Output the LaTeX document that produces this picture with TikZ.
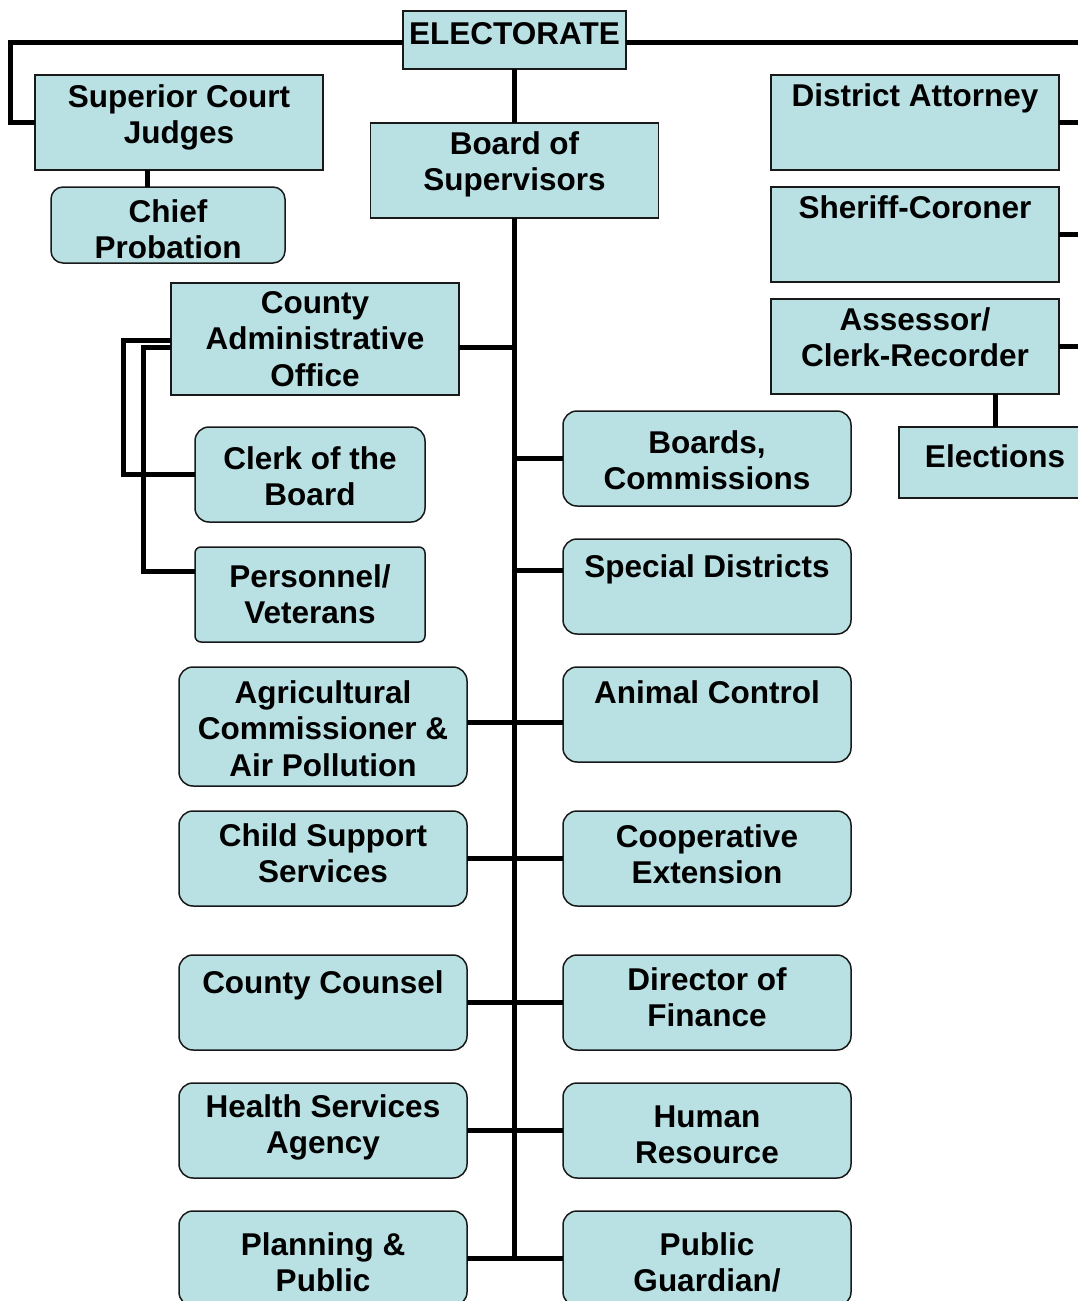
\documentclass[tikz,border=0pt]{standalone}
\usepackage{fontspec}
\setmainfont{Liberation Sans}
\definecolor{boxfill}{RGB}{185,224,227}
\definecolor{boxline}{RGB}{25,25,25}
\newcommand{\boxtxt}[4]{\parbox[c][#2pt][t]{#1pt}{\centering\rule{0pt}{#3pt}#4}}
\tikzset{
  orgbox/.style={draw=boxline, line width=1.5pt, fill=boxfill, inner sep=0pt, outer sep=0pt,
    font=\fontsize{31.5pt}{36.5pt}\selectfont\bfseries},
  roundbox/.style={orgbox, rounded corners=14pt},
  conn/.style={line width=5pt, draw=black}
}
\begin{document}
\begin{tikzpicture}[x=1pt,y=-1pt]
\useasboundingbox (0,0) rectangle (1078,1301);
\clip (0,0) rectangle (1078,1301);
% boxes
\node[orgbox] (elect) at (514.5,40) {\boxtxt{223}{58}{33}{ELECTORATE}};
\node[orgbox] (sup) at (179,122.5) {\boxtxt{288}{95}{32}{Superior Court\\Judges}};
\node[roundbox, rounded corners=12pt] (chief) at (168,225) {\boxtxt{234}{76}{35}{Chief\\Probation}};
\node[orgbox] (bos) at (514.5,170.5) {\boxtxt{288}{95}{31}{Board of\\Supervisors}};
\node[orgbox] (da) at (915,122.5) {\boxtxt{288}{95}{31}{District Attorney}};
\node[orgbox] (sher) at (915,234.5) {\boxtxt{288}{95}{31}{Sheriff-Coroner}};
\node[orgbox] (ass) at (915,346.5) {\boxtxt{288}{95}{31}{Assessor/\\Clerk-Recorder}};
\node[orgbox] (elec) at (995,462.5) {\boxtxt{192}{71}{40}{Elections}};
\node[orgbox] (cao) at (315,339) {\boxtxt{288}{112}{30}{County\\Administrative\\Office}};
\node[roundbox] (cob) at (310,474.5) {\boxtxt{230}{95}{42}{Clerk of the\\Board}};
\node[roundbox, rounded corners=6pt] (pers) at (310,594.5) {\boxtxt{230}{95}{40}{Personnel/\\Veterans}};
\node[roundbox] (bc) at (707,458.5) {\boxtxt{288}{95}{42}{Boards,\\Commissions}};
\node[roundbox] (sd) at (707,586.5) {\boxtxt{288}{95}{38}{Special Districts}};
\node[roundbox] (agr) at (323,726.5) {\boxtxt{288}{119}{36}{Agricultural\\Commissioner \&\\Air Pollution}};
\node[roundbox] (ac) at (707,714.5) {\boxtxt{288}{95}{36}{Animal Control}};
\node[roundbox] (css) at (323,858.5) {\boxtxt{288}{95}{35}{Child Support\\Services}};
\node[roundbox] (ce) at (707,858.5) {\boxtxt{288}{95}{36}{Cooperative\\Extension}};
\node[roundbox] (cc) at (323,1002.5) {\boxtxt{288}{95}{38}{County Counsel}};
\node[roundbox] (dof) at (707,1002.5) {\boxtxt{288}{95}{35}{Director of\\Finance}};
\node[roundbox] (hsa) at (323,1130.5) {\boxtxt{288}{95}{34}{Health Services\\Agency}};
\node[roundbox] (hr) at (707,1130.5) {\boxtxt{288}{95}{44}{Human\\Resource}};
\node[roundbox] (pp) at (323,1258.5) {\boxtxt{288}{95}{44}{Planning \&\\Public}};
\node[roundbox] (pg) at (707,1258.5) {\boxtxt{288}{95}{44}{Public\\Guardian/}};
% helper coordinates
\coordinate (tl) at (10,42);
\coordinate (re) at (1090,42);
\coordinate (bo) at (123,0);
\coordinate (bi) at (143,0);
\coordinate (trunk) at (bos.south);
\coordinate (persin) at ([yshift=23.5pt]pers.west);
\coordinate (sdin) at ([yshift=16.5pt]sd.west);
\coordinate (caoA) at ([yshift=-1pt]cao.west);
\coordinate (caoB) at ([yshift=-8pt]cao.west);
\coordinate (caoE) at ([yshift=-8pt]cao.east);
\coordinate (agrE) at ([yshift=4.5pt]agr.east);
\coordinate (acW) at ([yshift=-7.5pt]ac.west);
\coordinate (supS) at ([xshift=-32pt]sup.south);
% connectors
\draw[conn] (elect.west |- tl) -- (tl) -- (tl |- sup.west) -- (sup.west);
\draw[conn] (elect.east |- re) -- (re);
\draw[conn] (elect.south) -- (elect.south |- bos.north);
\draw[conn] (trunk) -- (trunk |- pp.east);
\draw[conn] (supS) -- (supS |- chief.north);
\draw[conn] (da.east) -- (da.east -| re);
\draw[conn] (sher.east) -- (sher.east -| re);
\draw[conn] (ass.east) -- (ass.east -| re);
\draw[conn] (elec.north |- ass.south) -- (elec.north);
\draw[conn] (caoE) -- (caoE -| trunk);
\draw[conn] (caoA) -- (caoA -| bo) -- (bo |- cob.west) -- (cob.west);
\draw[conn] (caoB) -- (caoB -| bi) -- (bi |- persin) -- (persin);
\draw[conn] (trunk |- bc.west) -- (bc.west);
\draw[conn] (trunk |- sdin) -- (sdin);
\draw[conn] (agrE) -- (acW);
\draw[conn] (css.east) -- (ce.west);
\draw[conn] (cc.east) -- (dof.west);
\draw[conn] (hsa.east) -- (hr.west);
\draw[conn] (pp.east) -- (pg.west);
\end{tikzpicture}
\end{document}
